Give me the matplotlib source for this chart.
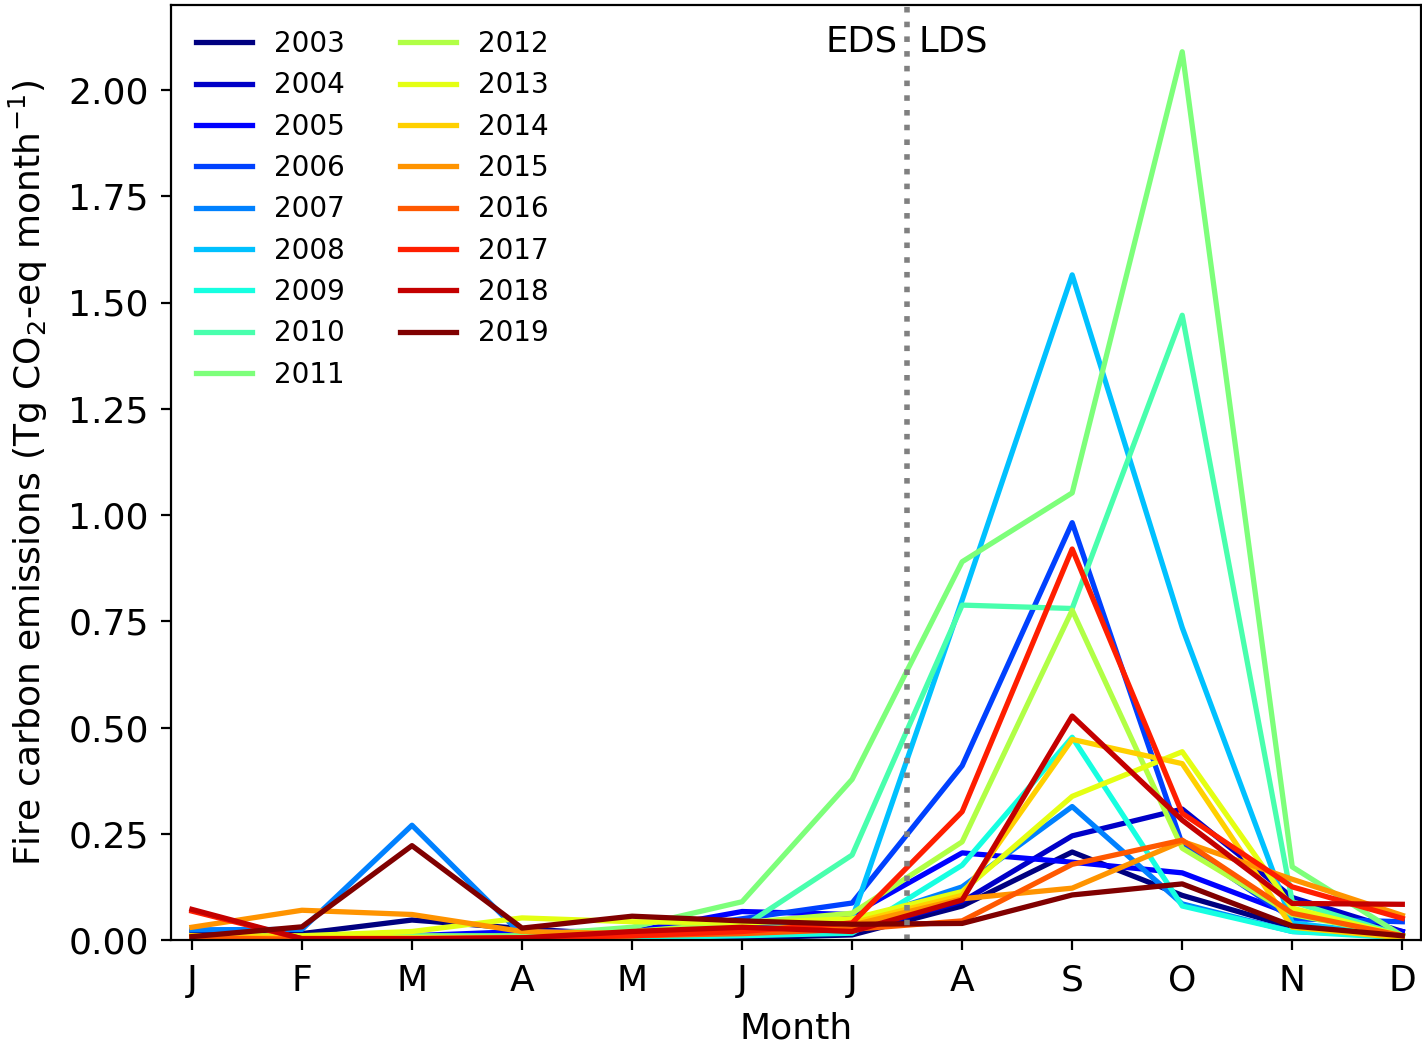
import numpy as np
import matplotlib
matplotlib.use("Agg")
import matplotlib.pyplot as plt

months = ["J", "F", "M", "A", "M", "J", "J", "A", "S", "O", "N", "D"]
years = list(range(2003, 2020))

e2003 = [0.020, 0.015, 0.047, 0.027, 0.010, 0.005, 0.012, 0.080, 0.207, 0.105, 0.030, 0.010]
e2004 = [0.005, 0.005, 0.005, 0.005, 0.005, 0.010, 0.020, 0.090, 0.245, 0.308, 0.100, 0.020]
e2005 = [0.005, 0.005, 0.010, 0.020, 0.020, 0.067, 0.060, 0.205, 0.183, 0.158, 0.060, 0.020]
e2006 = [0.010, 0.005, 0.005, 0.010, 0.015, 0.050, 0.087, 0.410, 0.982, 0.225, 0.050, 0.043]
e2007 = [0.024, 0.025, 0.270, 0.012, 0.010, 0.030, 0.040, 0.125, 0.314, 0.085, 0.020, 0.010]
e2008 = [0.005, 0.002, 0.002, 0.002, 0.005, 0.020, 0.050, 0.800, 1.565, 0.735, 0.040, 0.010]
e2009 = [0.010, 0.005, 0.005, 0.002, 0.005, 0.010, 0.016, 0.176, 0.477, 0.080, 0.020, 0.005]
e2010 = [0.010, 0.005, 0.005, 0.005, 0.010, 0.030, 0.200, 0.788, 0.780, 1.470, 0.090, 0.010]
e2011 = [0.010, 0.005, 0.010, 0.010, 0.030, 0.090, 0.378, 0.890, 1.052, 2.090, 0.172, 0.010]
e2012 = [0.010, 0.005, 0.005, 0.005, 0.020, 0.040, 0.063, 0.231, 0.776, 0.216, 0.060, 0.010]
e2013 = [0.010, 0.010, 0.020, 0.052, 0.043, 0.040, 0.050, 0.114, 0.338, 0.443, 0.075, 0.010]
e2014 = [0.010, 0.005, 0.005, 0.005, 0.010, 0.020, 0.040, 0.105, 0.472, 0.415, 0.030, 0.005]
e2015 = [0.030, 0.070, 0.060, 0.020, 0.015, 0.025, 0.035, 0.097, 0.122, 0.232, 0.143, 0.058]
e2016 = [0.005, 0.002, 0.002, 0.005, 0.010, 0.015, 0.025, 0.045, 0.178, 0.235, 0.063, 0.010]
e2017 = [0.068, 0.003, 0.003, 0.005, 0.010, 0.020, 0.040, 0.302, 0.920, 0.298, 0.125, 0.051]
e2018 = [0.072, 0.003, 0.003, 0.005, 0.020, 0.030, 0.020, 0.094, 0.527, 0.282, 0.086, 0.084]
e2019 = [0.008, 0.031, 0.222, 0.028, 0.056, 0.045, 0.037, 0.039, 0.106, 0.132, 0.033, 0.010]

series = [e2003, e2004, e2005, e2006, e2007, e2008, e2009, e2010, e2011,
          e2012, e2013, e2014, e2015, e2016, e2017, e2018, e2019]

fig = plt.figure(figsize=(7.11, 5.215), dpi=200)
ax = fig.add_axes([171 / 1422, 103 / 1043, (1421 - 171) / 1422, 935 / 1043])

colors = plt.cm.jet(np.linspace(0, 1, len(years)))
x = np.arange(12)
for yr, vals, c in zip(years, series, colors):
    ax.plot(x, vals, color=c, lw=1.9, label=str(yr))

ax.axvline(6.5, color="gray", ls=":", lw=2)
ax.text(6.41, 2.115, "EDS", ha="right", va="center", fontsize=12.7)
ax.text(6.60, 2.115, "LDS", ha="left", va="center", fontsize=12.7)

ax.set_xlim(-0.19, 11.17)
ax.set_ylim(0, 2.2)
ax.set_xticks(x)
ax.set_xticklabels(months, fontsize=13)
ax.set_yticks(np.arange(0, 2.01, 0.25))
ax.set_yticklabels([f"{v:.2f}" for v in np.arange(0, 2.01, 0.25)], fontsize=13)
ax.tick_params(axis="x", pad=5)
ax.tick_params(axis="y", pad=4.5)
ax.set_xlabel("Month", fontsize=13, labelpad=5)
ax.set_ylabel("Fire carbon emissions (Tg CO$_2$-eq month$^{-1}$)", fontsize=13, labelpad=6.5)

ax.legend(loc="upper left", ncol=2, frameon=False, fontsize=10, labelspacing=0.48)

fig.savefig("out.png", dpi=200)
